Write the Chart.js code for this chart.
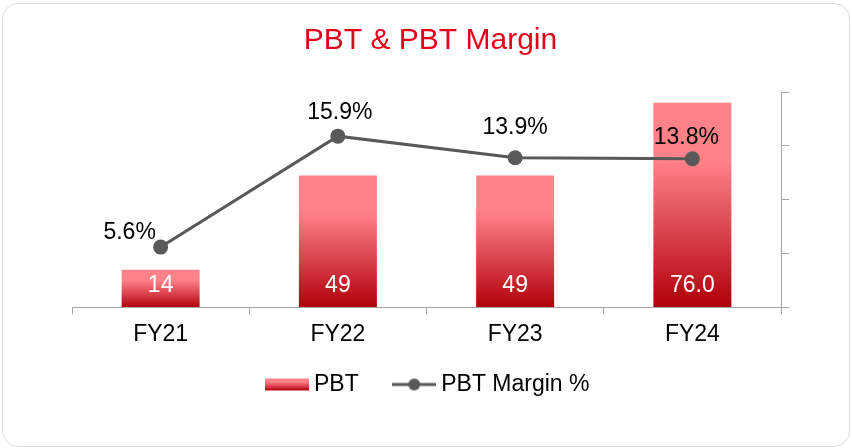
<!DOCTYPE html>
<html>
<head>
<meta charset="utf-8">
<script src="https://cdn.jsdelivr.net/npm/chart.js@4/dist/chart.umd.min.js"></script>
<style>
  body { margin: 0; background: #fff; }
  .card {
    position: absolute; left: 2px; top: 3px; width: 848px; height: 444px;
    box-sizing: border-box; border: 1.5px solid #dedede; border-radius: 16px;
  }
  #pbtChart { position: absolute; left: 0; top: 0; }
</style>
</head>
<body>
<div class="card"></div>
<canvas id="pbtChart" width="852" height="448"></canvas>
<script>
// ////////////// data
const years = ['FY21', 'FY22', 'FY23', 'FY24'];
const pbt = [14, 49, 49, 76.0];
const pbtLabels = ['14', '49', '49', '76.0'];
const pbtMargin = [5.6, 15.9, 13.9, 13.8];

// ////////////// label offsets for the margin % text (dx, dy from the point)
const marginLabelShift = [[-31, -8], [2, -17], [0, -24], [-6, -15]];

const FONT = 'Arial, "Liberation Sans", sans-serif';
const PINK = '#ff8288';
const DARK = '#b10008';

const barFill = function(ctx, top, bottom){
    const g = ctx.createLinearGradient(0, top, 0, bottom);
    g.addColorStop(0, PINK);
    g.addColorStop(0.28, PINK);
    g.addColorStop(0.65, '#d8404a');
    g.addColorStop(1, DARK);
    return g;
};

// ////////////// legend swatches
const barSwatch = document.createElement('canvas');
barSwatch.width = 44; barSwatch.height = 14;
(function(){
    const c = barSwatch.getContext('2d');
    c.fillStyle = barFill(c, 1, 13);
    c.fillRect(0, 1, 44, 12);
})();
const lineSwatch = document.createElement('canvas');
lineSwatch.width = 44; lineSwatch.height = 14;
(function(){
    const c = lineSwatch.getContext('2d');
    c.strokeStyle = '#595959'; c.lineWidth = 3;
    c.beginPath(); c.moveTo(0, 7); c.lineTo(44, 7); c.stroke();
    c.fillStyle = '#595959';
    c.beginPath(); c.arc(22, 7, 6, 0, Math.PI * 2); c.fill();
})();

// ////////////// value labels
const valueLabels = {
    id: 'valueLabels',
    afterDatasetsDraw(chart){
        const ctx = chart.ctx;
        ctx.save();
        ctx.font = '23px ' + FONT;
        ctx.textAlign = 'center';
        ctx.textBaseline = 'alphabetic';
        const yBase = chart.scales.y.getPixelForValue(0);
        chart.getDatasetMeta(0).data.forEach((bar, i) => {
            ctx.fillStyle = '#ffffff';
            ctx.fillText(pbtLabels[i], bar.x, yBase - 15);
        });
        chart.getDatasetMeta(1).data.forEach((pt, i) => {
            ctx.fillStyle = '#000000';
            const s = marginLabelShift[i];
            ctx.fillText(pbtMargin[i].toFixed(1) + '%', pt.x + s[0], pt.y + s[1]);
        });
        ctx.restore();
    }
};

// ////////////// pull the legend up closer to the axis labels
const legendLift = {
    id: 'legendLift',
    afterLayout(chart){
        chart.legend.top -= 21;
        chart.legend.bottom -= 21;
    }
};

const ctx = document.getElementById('pbtChart').getContext('2d');
const pbtChart = new Chart(ctx, {
    type: 'bar',
    data: {
        labels: years,
        datasets: [{
            type: 'bar',
            label: 'PBT',
            data: pbt,
            yAxisID: 'y',
            order: 2,
            categoryPercentage: 1,
            barPercentage: 0.44,
            backgroundColor: function(c){
                if (c.type !== 'data' || !c.chart.chartArea) return PINK;
                const y = c.chart.scales.y;
                return barFill(c.chart.ctx, y.getPixelForValue(c.raw), y.getPixelForValue(0));
            }
        }, {
            type: 'line',
            label: 'PBT Margin %',
            data: pbtMargin,
            yAxisID: 'yPct',
            order: 1,
            borderColor: '#595959',
            borderWidth: 3,
            pointRadius: 6,
            pointBackgroundColor: '#595959',
            pointBorderColor: '#595959',
            tension: 0
        }]
    },
    options: {
        responsive: false,
        animation: false,
        layout: { padding: { left: 72, right: 63, top: 0, bottom: 21 } },
        plugins: {
            title: {
                display: true,
                text: 'PBT & PBT Margin',
                color: '#e2001a',
                font: { family: FONT, size: 30, weight: 'normal' },
                padding: { top: 23, bottom: 33 }
            },
            legend: {
                position: 'bottom',
                labels: {
                    usePointStyle: true,
                    pointStyleWidth: 31,
                    padding: 40,
                    color: '#000',
                    font: { family: FONT, size: 23 },
                    generateLabels: function(chart){
                        return [{
                            text: chart.data.datasets[0].label, pointStyle: barSwatch,
                            datasetIndex: 0, fontColor: '#000', lineWidth: 0, hidden: false
                        }, {
                            text: chart.data.datasets[1].label, pointStyle: lineSwatch,
                            datasetIndex: 1, fontColor: '#000', lineWidth: 0, hidden: false
                        }];
                    }
                }
            },
            tooltip: { enabled: false }
        },
        scales: {
            x: {
                grid: { offset: true, drawOnChartArea: false, tickLength: 7, color: '#a6a6a6' },
                border: { color: '#a6a6a6' },
                ticks: { color: '#000', padding: 6, font: { family: FONT, size: 23 } }
            },
            y: {
                position: 'right',
                min: 0, max: 80,
                ticks: { stepSize: 20, display: false },
                grid: { drawOnChartArea: false, tickLength: 8, color: '#a6a6a6' },
                border: { color: '#a6a6a6' }
            },
            yPct: {
                display: false,
                position: 'left',
                min: 0, max: 20
            }
        }
    },
    plugins: [valueLabels, legendLift]
});
</script>
</body>
</html>
